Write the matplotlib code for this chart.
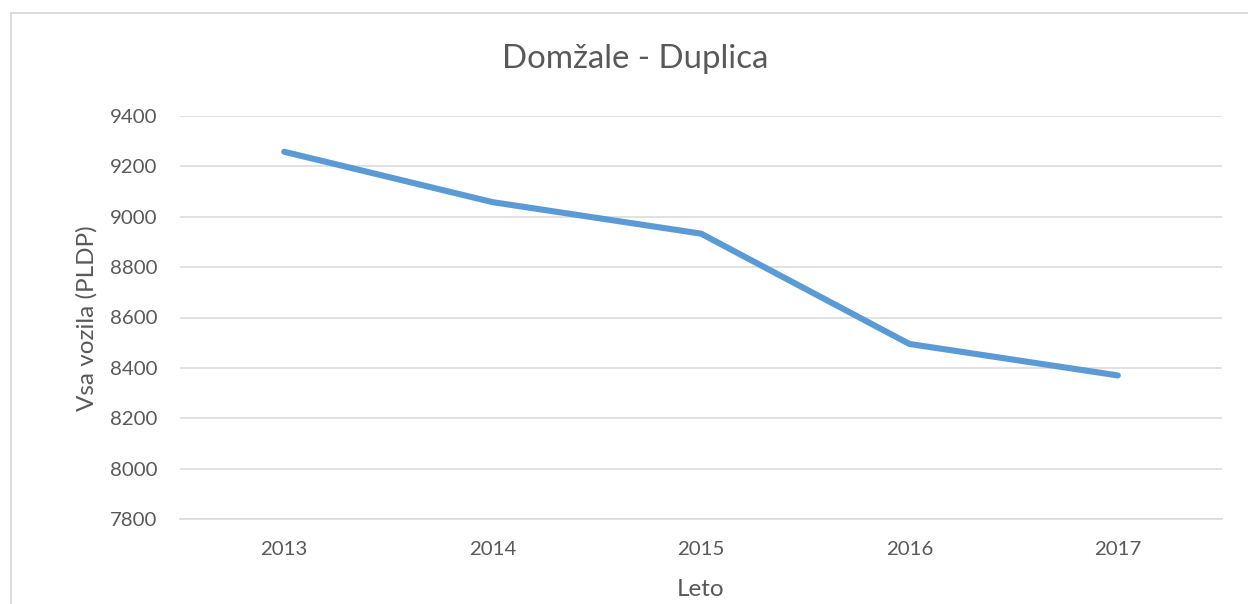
import matplotlib
matplotlib.use("Agg")
import matplotlib.pyplot as plt
from matplotlib.lines import Line2D

years = ["2013", "2014", "2015", "2016", "2017"]
vehicles = [9258, 9058, 8933, 8495, 8370]
yticks = [7800, 8000, 8200, 8400, 8600, 8800, 9000, 9200, 9400]

plt.rcParams['font.family'] = ['Lato', 'DejaVu Sans']
txt = '#595959'
grid = '#D9D9D9'

W, H = 1248, 604
fig = plt.figure(figsize=(W/100, H/100), dpi=100)
ax = fig.add_axes([180/W, 1-519/H, (1222-180)/W, (519-116)/H])

x = list(range(len(years)))
ax.plot(x, vehicles, color='#5B9BD5', lw=4.4, solid_capstyle='round', solid_joinstyle='round', zorder=3)
ax.set_xlim(-0.5, len(years)-0.5)
ax.set_ylim(7800, 9400)
ax.set_yticks(yticks)
ax.set_xticks(x)
ax.set_xticklabels(years)
ax.grid(axis='y', color=grid, lw=1.1)
ax.set_axisbelow(True)
for s in ['top', 'right', 'left']:
    ax.spines[s].set_visible(False)
ax.spines['bottom'].set_color(grid)
ax.spines['bottom'].set_linewidth(1.1)
ax.tick_params(axis='both', length=0, colors=txt, labelsize=14.7)
ax.tick_params(axis='y', pad=16.5)
ax.tick_params(axis='x', pad=15.5)

fig.text(701/W, 1-590/H, 'Leto', color=txt, fontsize=17.5, ha='center', va='center')
fig.text(87/W, 1-318/H, 'Vsa vozila (PLDP)', color=txt, fontsize=17.5, ha='center', va='center', rotation=90)
fig.text(635/W, 1-59/H, 'Domžale - Duplica', color=txt, fontsize=23.8, ha='center', va='center')

fig.add_artist(Line2D([11/W, 11/W], [0, 1-13/H], color=grid, lw=1.3, transform=fig.transFigure))
fig.add_artist(Line2D([11/W, 1], [1-13/H, 1-13/H], color=grid, lw=1.3, transform=fig.transFigure))

fig.savefig('out.png', dpi=100, facecolor='white')
